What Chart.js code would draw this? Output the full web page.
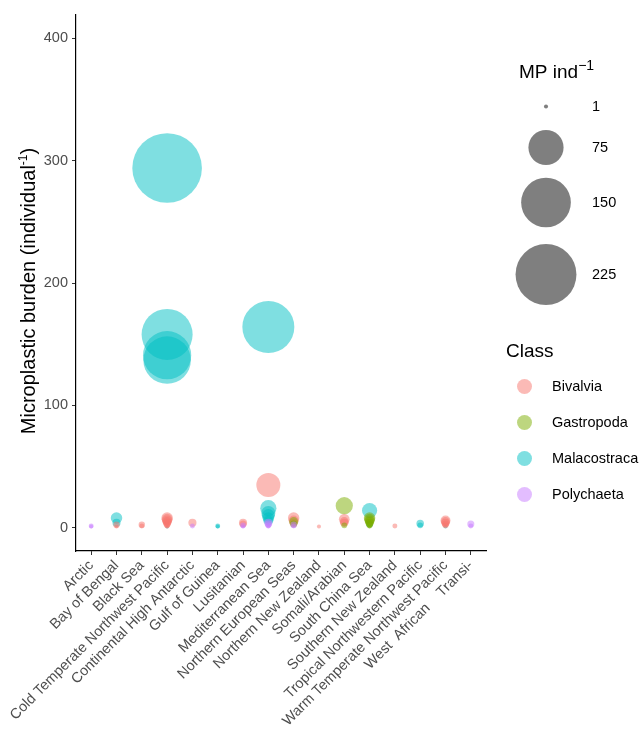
<!DOCTYPE html>
<html>
<head>
<meta charset="utf-8">
<script src="https://cdn.jsdelivr.net/npm/chart.js@4.4.1/dist/chart.umd.min.js"></script>
<style>
  body { margin: 0; background: #fff; }
  #caixa { width: 644px; height: 733px; }
</style>
</head>
<body>
<div id="caixa"><canvas id="graficoBolhas" width="644" height="733"></canvas></div>
<script>
// categorias do eixo x (ecorregioes)
const regioes = [
  'Arctic', 'Bay of Bengal', 'Black Sea', 'Cold Temperate Northwest Pacific',
  'Continental High Antarctic', 'Gulf of Guinea', 'Lusitanian', 'Mediterranean Sea',
  'Northern European Seas', 'Northern New Zealand', 'Somali/Arabian', 'South China Sea',
  'Southern New Zealand', 'Tropical Northwestern Pacific', 'Warm Temperate Northwest Pacific',
  'West  African    Transi-'
];
const marcasY = [0, 100, 200, 300, 400];
const quebrasTamanho = [1, 75, 150, 225];
const classes = ['Bivalvia', 'Gastropoda', 'Malacostraca', 'Polychaeta'];

// indice da regiao + MP por individuo, por classe
const bivalviaRegiao = [1, 1, 2, 2, 3, 3, 3, 3, 3, 3, 3, 3, 4, 6, 6, 7, 8, 8, 8, 9, 10, 10, 10, 12, 14, 14, 14, 14, 14];
const bivalviaValor  = [2.5, 1, 2.5, 1.5, 8, 7, 6, 5, 4, 3, 2, 1, 4, 4, 3, 35, 8, 6, 4, 1, 7, 5, 4, 1.5, 6, 5, 4, 3, 2];

const gastropodaRegiao = [8, 8, 10, 10, 11, 11, 11, 11, 11, 11, 11, 11];
const gastropodaValor  = [5, 3, 18, 2, 8, 7, 6, 5, 4, 3, 2, 1];

const malacostracaRegiao = [1, 1, 3, 3, 3, 3, 3, 5, 5, 7, 7, 7, 7, 7, 7, 11, 11, 13, 13, 14];
const malacostracaValor  = [8, 4, 294, 158, 141, 137, 0.5, 1.5, 1, 164, 16, 12, 10, 8, 6, 14, 3, 3.5, 2, 1];

const polychaetaRegiao = [0, 0, 4, 6, 6, 7, 7, 7, 7, 8, 8, 15, 15];
const polychaetaValor  = [1.5, 1, 1.5, 2, 1, 4, 3, 2, 1, 2.5, 1.5, 3, 1.5];

const cores = {
  Bivalvia: '248,118,109',
  Gastropoda: '124,174,0',
  Malacostraca: '0,191,196',
  Polychaeta: '199,124,255'
};

const fonte = "'Liberation Sans', Arial, sans-serif";

// raio proporcional a raiz do valor (area ~ valor)
function tamanho(v) {
  return 2.03 * Math.sqrt(v);
}

function montaDataset(nome, regiao, valores, ordem) {
  return {
    label: nome,
    data: regiao.map((r, i) => ({ x: r, y: valores[i] })),
    backgroundColor: 'rgba(' + cores[nome] + ',0.5)',
    borderWidth: 0,
    pointRadius: ctx => tamanho(ctx.raw.y),
    order: ordem
  };
}

function mede(ctx, base, expoente, fim, tam, tamExp) {
  ctx.font = tam + 'px ' + fonte;
  const w1 = ctx.measureText(base).width;
  const w3 = fim ? ctx.measureText(fim).width : 0;
  ctx.font = tamExp + 'px ' + fonte;
  const w2 = ctx.measureText(expoente).width;
  return { w1, w2, w3, total: w1 + w2 + w3 };
}

function desenhaComExpoente(ctx, x, y, base, expoente, fim, tam, tamExp) {
  const m = mede(ctx, base, expoente, fim, tam, tamExp);
  ctx.textAlign = 'left';
  ctx.textBaseline = 'alphabetic';
  ctx.font = tam + 'px ' + fonte;
  ctx.fillText(base, x, y);
  ctx.font = tamExp + 'px ' + fonte;
  ctx.fillText(expoente, x + m.w1, y - tam * 0.4);
  if (fim) {
    ctx.font = tam + 'px ' + fonte;
    ctx.fillText(fim, x + m.w1 + m.w2, y);
  }
  return m;
}

const legendaPlugin = {
  id: 'legendaPlugin',
  afterDraw(chart) {
    const ctx = chart.ctx;
    const area = chart.chartArea;

    // titulo do eixo y
    ctx.save();
    ctx.fillStyle = '#000';
    ctx.translate(35, (area.top + area.bottom) / 2 + 8);
    ctx.rotate(-Math.PI / 2);
    const m = mede(ctx, 'Microplastic burden (individual', '-1', ')', 20, 12);
    desenhaComExpoente(ctx, -m.total / 2, 0, 'Microplastic burden (individual', '-1', ')', 20, 12);
    ctx.restore();

    // legenda de tamanho
    ctx.save();
    ctx.fillStyle = '#000';
    desenhaComExpoente(ctx, 519, 78, 'MP ind', '\u22121', null, 19, 14);
    const posY = [106.5, 147.5, 202.5, 274.5];
    quebrasTamanho.forEach((v, i) => {
      ctx.beginPath();
      ctx.fillStyle = 'rgba(0,0,0,0.5)';
      ctx.arc(546, posY[i], tamanho(v), 0, Math.PI * 2);
      ctx.fill();
      ctx.fillStyle = '#000';
      ctx.font = '14.5px ' + fonte;
      ctx.textAlign = 'left';
      ctx.textBaseline = 'middle';
      ctx.fillText(String(v), 592, posY[i]);
    });

    // legenda de classe
    ctx.font = '19px ' + fonte;
    ctx.textBaseline = 'middle';
    ctx.fillText('Class', 506, 352);
    classes.forEach((c, i) => {
      const y = 386.5 + i * 36;
      ctx.beginPath();
      ctx.fillStyle = 'rgba(' + cores[c] + ',0.5)';
      ctx.arc(524.5, y, 7.5, 0, Math.PI * 2);
      ctx.fill();
      ctx.fillStyle = '#000';
      ctx.font = '14.5px ' + fonte;
      ctx.fillText(c, 552, y);
    });
    ctx.restore();
  }
};

const ctxGrafico = document.getElementById('graficoBolhas');

new Chart(ctxGrafico.getContext('2d'), {
  type: 'scatter',
  data: {
    datasets: [
      montaDataset('Malacostraca', malacostracaRegiao, malacostracaValor, 3),
      montaDataset('Bivalvia', bivalviaRegiao, bivalviaValor, 2),
      montaDataset('Gastropoda', gastropodaRegiao, gastropodaValor, 1),
      montaDataset('Polychaeta', polychaetaRegiao, polychaetaValor, 0)
    ]
  },
  options: {
    responsive: false,
    animation: false,
    events: [],
    layout: { autoPadding: false, padding: { left: 0, right: 158, top: 15, bottom: 0 } },
    plugins: {
      legend: { display: false },
      tooltip: { enabled: false }
    },
    scales: {
      x: {
        type: 'linear',
        min: -0.6,
        max: 15.6,
        afterBuildTicks: eixo => { eixo.ticks = regioes.map((r, i) => ({ value: i })); },
        afterFit: eixo => { eixo.height = 182; },
        ticks: {
          autoSkip: false,
          minRotation: 45,
          maxRotation: 45,
          padding: 2,
          color: '#4d4d4d',
          font: { family: fonte, size: 14.5 },
          callback: v => regioes[v]
        },
        grid: { drawOnChartArea: false, tickLength: 4, color: '#333' },
        border: { color: '#000', width: 1.2 }
      },
      y: {
        min: -19,
        max: 419,
        afterBuildTicks: eixo => { eixo.ticks = marcasY.map(v => ({ value: v })); },
        afterFit: eixo => { eixo.width = 76; },
        ticks: {
          padding: 4,
          color: '#4d4d4d',
          font: { family: fonte, size: 14.5 }
        },
        grid: { drawOnChartArea: false, tickLength: 4, color: '#333' },
        border: { color: '#000', width: 1.2 }
      }
    }
  },
  plugins: [legendaPlugin]
});
</script>
</body>
</html>
